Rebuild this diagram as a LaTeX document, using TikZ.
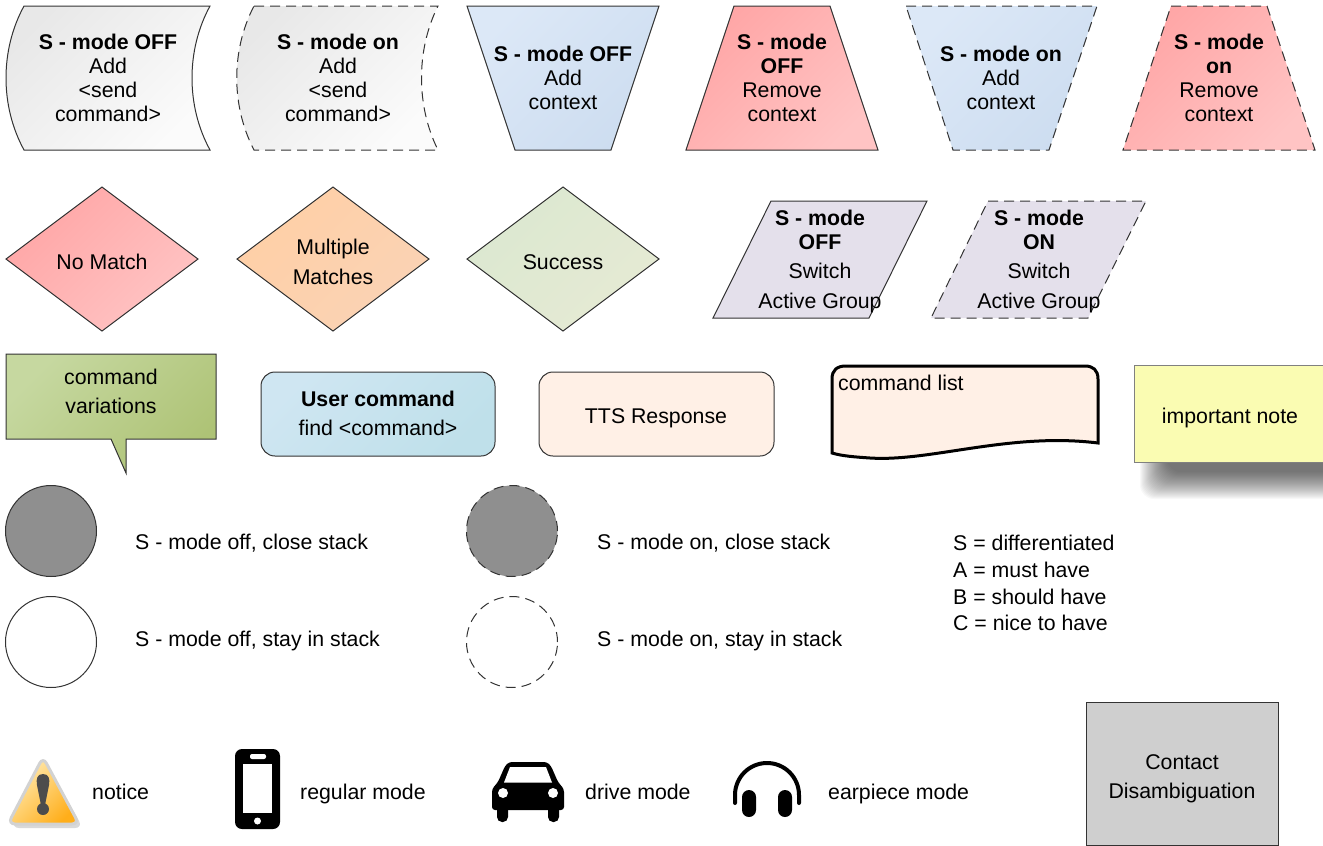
\documentclass[tikz,border=0pt]{standalone}
\usepackage{fontspec}
\setmainfont{Liberation Sans}
\usepackage{tikz}
\usetikzlibrary{calc,fadings}
\definecolor{edgegray}{HTML}{333333}
\definecolor{grayA}{HTML}{E8E8E8}
\definecolor{grayB}{HTML}{FBFBFB}
\definecolor{blueA}{HTML}{DCE8F7}
\definecolor{blueB}{HTML}{CDDDF0}
\definecolor{redA}{HTML}{FFA6A6}
\definecolor{redB}{HTML}{FFC4C4}
\definecolor{peachA}{HTML}{FFCFA6}
\definecolor{peachB}{HTML}{FAD3B5}
\definecolor{sageA}{HTML}{DBE8D0}
\definecolor{sageB}{HTML}{E6EAD4}
\definecolor{lilac}{HTML}{E4E0EB}
\definecolor{oliveA}{HTML}{C6D8A0}
\definecolor{oliveB}{HTML}{AEC376}
\definecolor{skyA}{HTML}{CFE6F2}
\definecolor{skyB}{HTML}{BFE0EA}
\definecolor{shell}{HTML}{FFF0E6}
\definecolor{noteyellow}{HTML}{FAFCB2}
\definecolor{stackgray}{HTML}{8F8F8F}
\definecolor{warnA}{HTML}{FFEDB8}
\definecolor{warnB}{HTML}{FFAE1A}
\definecolor{boxgray}{HTML}{CFCFCF}
\tikzset{
  tint/.style 2 args={left color=#1,right color=#2,shading angle=45},
  outline/.style={draw=edgegray,line width=1pt},
  dashline/.style={draw=edgegray,line width=1pt,dash pattern=on 10pt off 6pt},
  lbl/.style={inner sep=0pt,align=center,font=\fontsize{21.3}{24}\selectfont},
  side/.style={inner sep=0pt,anchor=base west,font=\fontsize{21.3}{24}\selectfont},
  solidicon/.style={fill=black,draw=none}
}
\begin{document}
\begin{tikzpicture}[x=1pt,y=-1pt]
\useasboundingbox (0,0) rectangle (1323,846);

\draw[outline,tint={grayA}{grayB}] (24,6) -- (210,6) .. controls (186,50) and (186,106) .. (210,150) -- (24,150) .. controls (0,106) and (0,50) .. (24,6) -- cycle;
\draw[dashline,tint={grayA}{grayB}] (254,6) -- (438,6) .. controls (416,50) and (416,106) .. (438,150) -- (254,150) .. controls (231,106) and (231,50) .. (254,6) -- cycle;
\draw[outline,tint={blueA}{blueB}] (467,6) -- (659,6) -- (611,150) -- (515,150) -- cycle;
\draw[outline,tint={redA}{redB}] (734,6) -- (830,6) -- (878,150) -- (686,150) -- cycle;
\draw[dashline,tint={blueA}{blueB}] (906,6) -- (1097,6) -- (1049,150) -- (953,150) -- cycle;
\draw[dashline,tint={redA}{redB}] (1171,6) -- (1267,6) -- (1315,150) -- (1123,150) -- cycle;

\node[lbl] (addoff) at (108,78) {\textbf{S - mode OFF}\\Add\\<send\\command>};
\node[lbl] (addon) at (338,78) {\textbf{S - mode on}\\Add\\<send\\command>};
\node[lbl] (ctxoff) at (563,78) {\textbf{S - mode OFF}\\Add\\context};
\node[lbl] (rmoff) at (782,78) {\textbf{S - mode}\\\textbf{OFF}\\Remove\\context};
\node[lbl] (ctxon) at (1001,78) {\textbf{S - mode on}\\Add\\context};
\node[lbl] (rmon) at (1219,78) {\textbf{S - mode}\\\textbf{on}\\Remove\\context};

\draw[outline,tint={redA}{redB}] (102,187) -- (198,259) -- (102,331) -- (6,259) -- cycle;
\draw[outline,tint={peachA}{peachB}] (333,187) -- (429,259) -- (333,331) -- (237,259) -- cycle;
\draw[outline,tint={sageA}{sageB}] (563,187) -- (659,259) -- (563,331) -- (467,259) -- cycle;
\draw[outline,fill=lilac] (771,201) -- (927,201) -- (869,318) -- (713,318) -- cycle;
\draw[dashline,fill=lilac] (988,201) -- (1146,201) -- (1088,318) -- (931,318) -- cycle;

\node[lbl] (nomatch) at (102,262) {No Match};
\node[lbl] (multi) at (333,262) {Multiple\\[6pt]Matches};
\node[lbl] (success) at (563,262) {Success};
\node[lbl] (switchoff) at (820,261) {\textbf{S - mode}\\\textbf{OFF}\\[5pt]Switch\\[6pt]Active Group};
\node[lbl] (switchon) at (1039,261) {\textbf{S - mode}\\\textbf{ON}\\[5pt]Switch\\[6pt]Active Group};

\draw[outline,tint={oliveA}{oliveB}] (6,354) -- (216,354) -- (216,439) -- (126,439) -- (126,473) -- (111,439) -- (6,439) -- cycle;
\draw[outline,rounded corners=14pt,tint={skyA}{skyB}] (261,372) rectangle (495,456);
\draw[outline,rounded corners=14pt,fill=shell] (539,372) rectangle (774,456);
\draw[black,line width=3pt,fill=shell] (832,453) -- (832,379) .. controls (832,370) and (837,366) .. (846,366) -- (1085,366) .. controls (1093,366) and (1098,370) .. (1098,379) -- (1098,443) .. controls (1010,432) and (930,462) .. (870,458) .. controls (855,457) and (842,456) .. (832,453) -- cycle;

\begin{scope}
\clip (0,0) rectangle (1323,846);
\foreach \i in {0,...,27}
  \fill[black,opacity=0.028,rounded corners=14pt] ({1140+\i},{400+\i}) rectangle (1370,{499-\i});
\draw[draw=gray,line width=1pt,fill=noteyellow] (1134,365.5) rectangle (1330,462);
\end{scope}

\node[lbl] (variations) at (111,391) {command\\[5pt]variations};
\node[lbl] (usercmd) at (378,413) {\textbf{User command}\\[5pt]find <command>};
\node[lbl] (tts) at (656,418) {TTS Response};
\node[side] (cmdlist) at (838,390) {command list};
\node[lbl] (note) at (1230,418) {important note};

\draw[outline,fill=stackgray] (51,531) circle[radius=45.5pt];
\draw[dashline,fill=stackgray] (512,531) circle[radius=45.5pt];
\draw[outline,fill=white] (51,642) circle[radius=45.5pt];
\draw[dashline,fill=white] (512,642) circle[radius=45.5pt];

\node[side] (offclose) at (135,549) {S - mode off, close stack};
\node[side] (onclose) at (597,549) {S - mode on, close stack};
\node[side] (offstay) at (135,646) {S - mode off, stay in stack};
\node[side] (onstay) at (597,646) {S - mode on, stay in stack};
\node[side,align=left,anchor=north west,font=\fontsize{21.3}{26.7}\selectfont] (legend) at (953,535) {S = differentiated\\A = must have\\B = should have\\C = nice to have};

\fill[gray!30,rounded corners=8pt] (45,760) -- (83,828) -- (11,828) -- cycle;
\draw[line width=3pt,draw=gray!35,rounded corners=7pt,tint={warnA}{warnB}] (43,757) -- (79,824) -- (8,824) -- cycle;
\fill[black!70] (43,774) .. controls (49,774) and (50,779) .. (49,785) -- (45,805) -- (41,805) -- (37,785) .. controls (36,779) and (37,774) .. (43,774) -- cycle;
\fill[black!70] (43,809) circle[radius=6pt];
\node[side] (notice) at (92,799) {notice};

\fill[solidicon,rounded corners=7pt] (235,749) rectangle (280,829);
\fill[white] (243,763.5) rectangle (272,813);
\fill[white,rounded corners=2pt] (250,754) rectangle (266,759);
\fill[white] (257.5,821) circle[radius=3.5pt];
\node[side] (regular) at (300,799) {regular mode};

\fill[solidicon,rounded corners=3pt] (492,810) -- (492,789) -- (498,782) -- (505,766) -- (509,762) -- (547,762) -- (551,766) -- (558,782) -- (564,789) -- (564,810) -- cycle;
\fill[solidicon,rounded corners=5pt] (497,805) rectangle (508,822);
\fill[solidicon,rounded corners=5pt] (548,805) rectangle (559,822);
\fill[white] (504,782.5) -- (510,767) -- (546,767) -- (552,782.5) -- cycle;
\fill[white] (503,793) circle[radius=5pt];
\fill[white] (553,793) circle[radius=5pt];
\node[side] (drive) at (585,799) {drive mode};

\draw[black,line width=4pt,line cap=round] (735,803) -- (735,795) arc[start angle=180,end angle=0,radius=32pt] -- (799,803);
\fill[solidicon,rounded corners=7pt] (742,790) rectangle (756,817);
\fill[solidicon,rounded corners=7pt] (778,790) rectangle (792,817);
\node[side] (earpiece) at (828,799) {earpiece mode};

\draw[outline,fill=boxgray] (1086,702) rectangle (1278,845.5);
\node[lbl] (contact) at (1182,779) {Contact\\[5pt]Disambiguation};
\end{tikzpicture}
\end{document}
